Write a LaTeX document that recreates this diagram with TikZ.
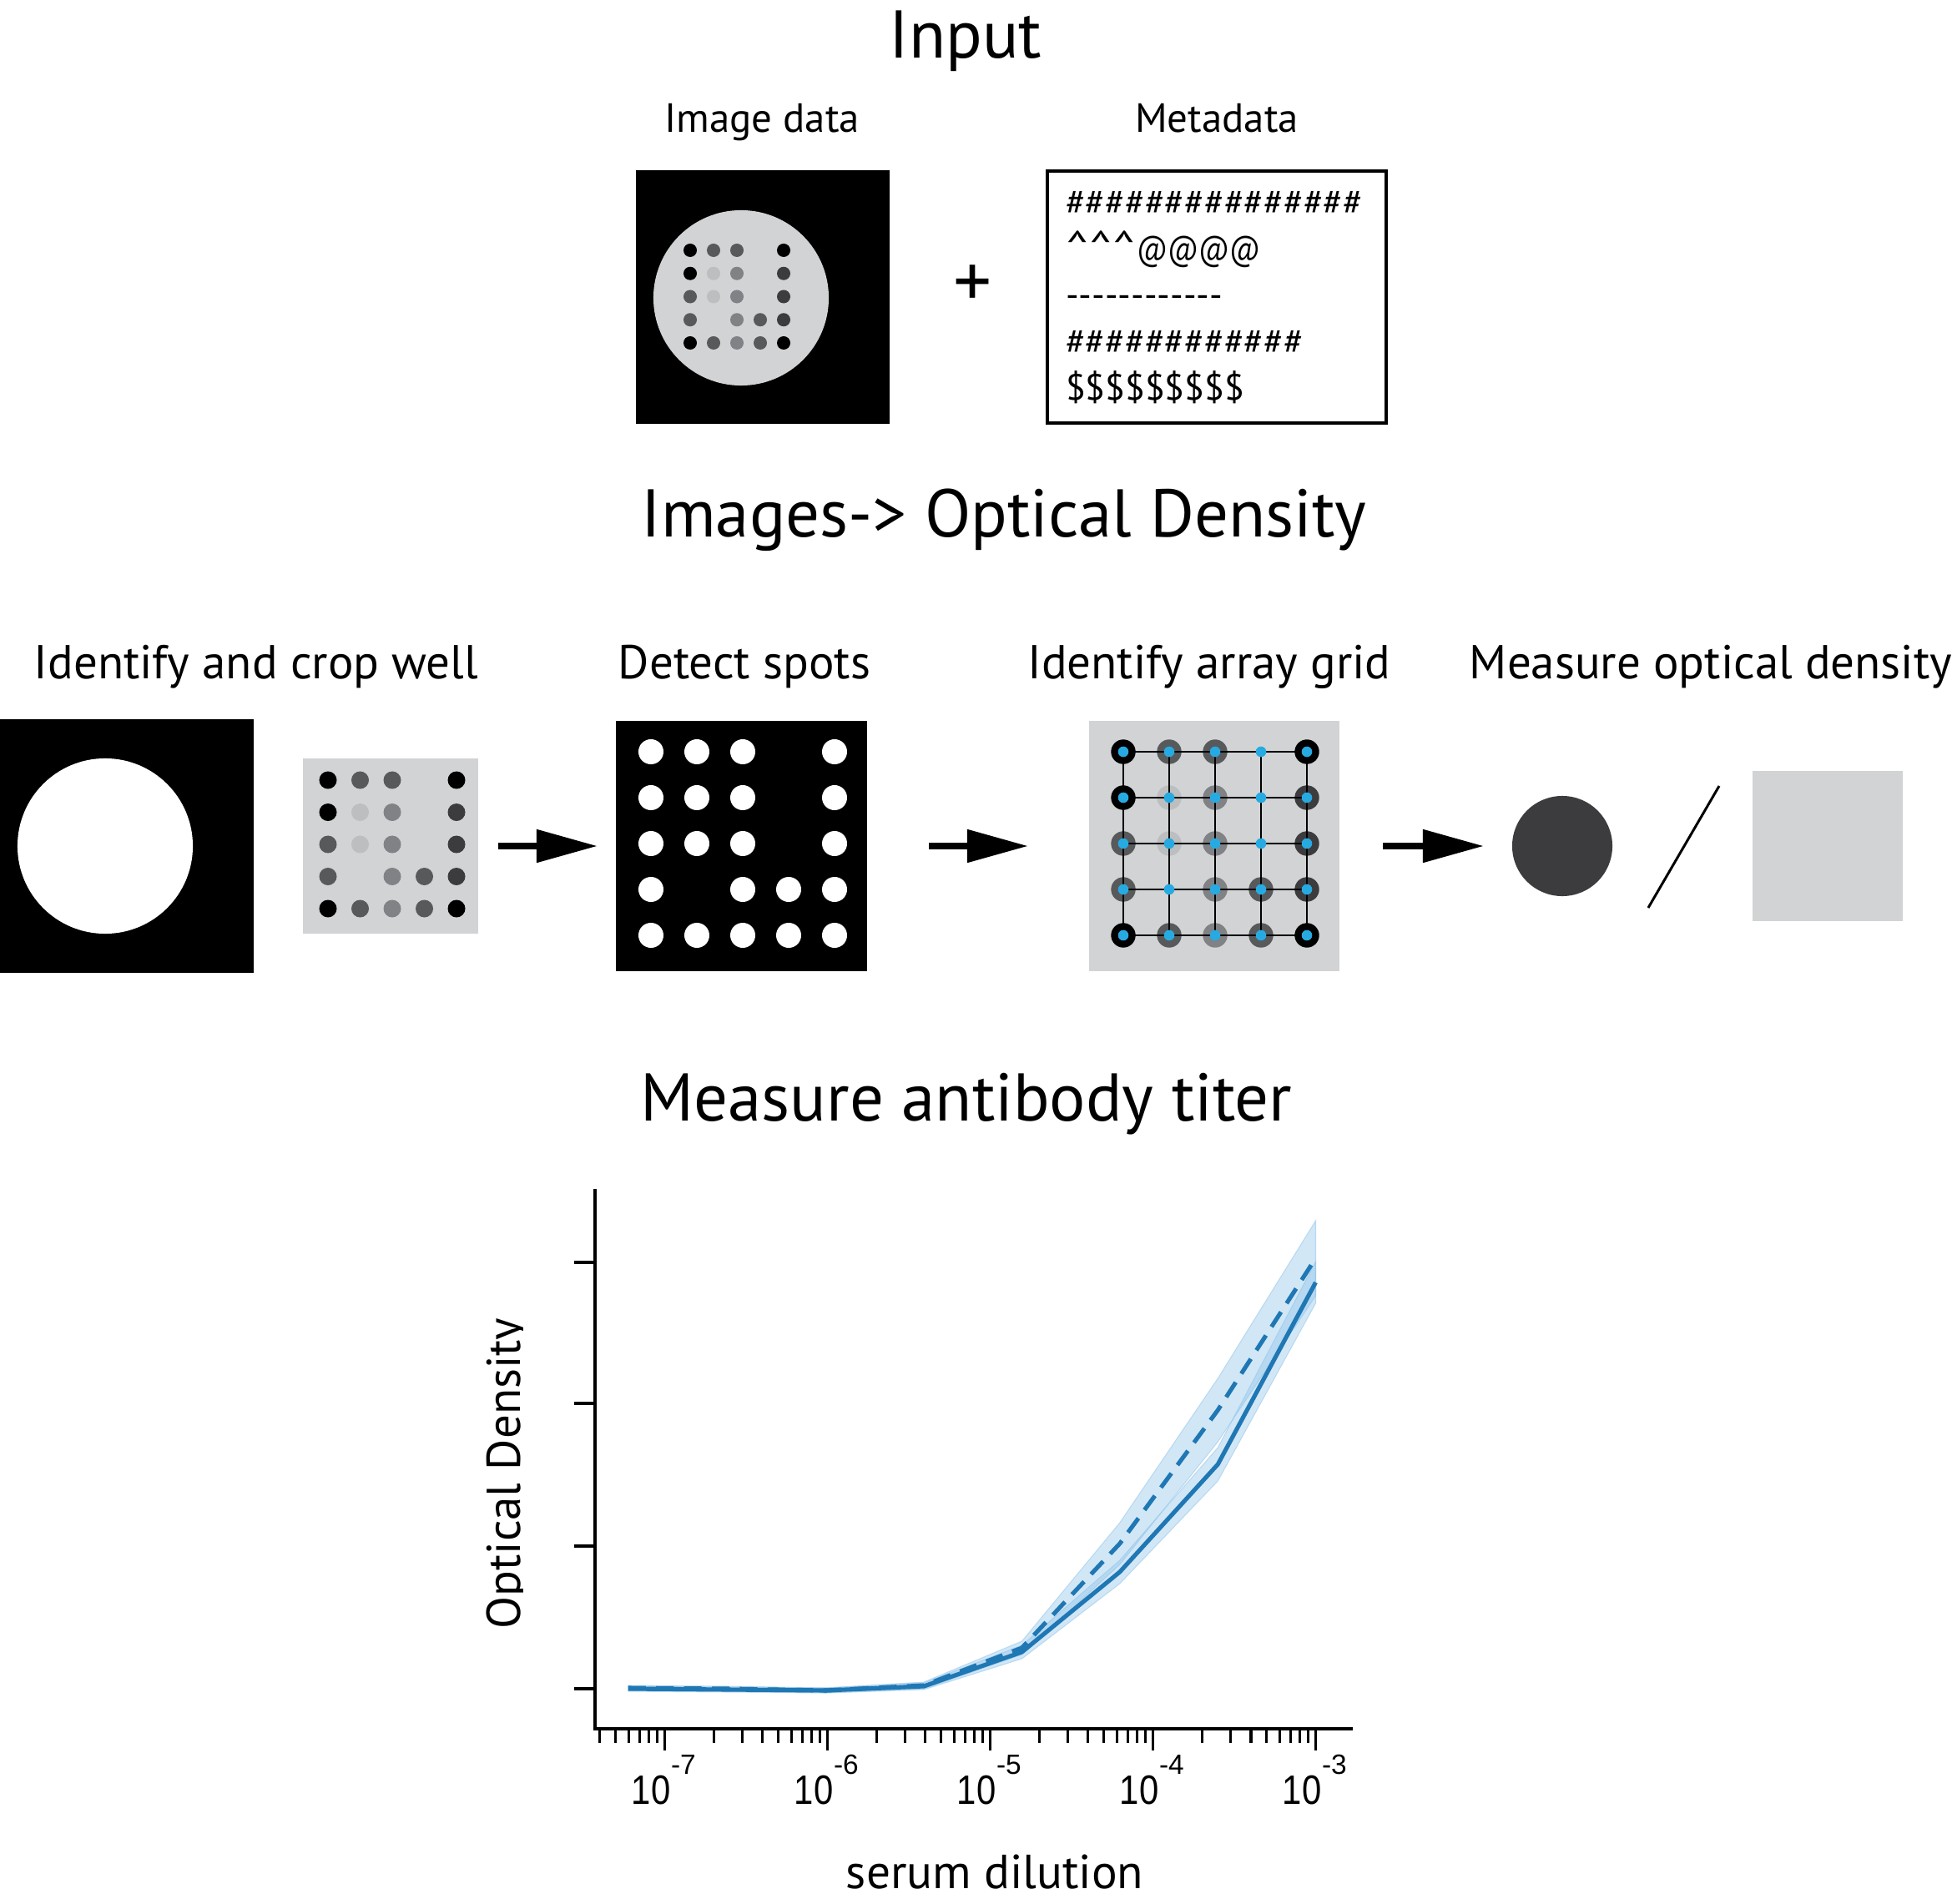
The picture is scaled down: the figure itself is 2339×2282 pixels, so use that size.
\documentclass[tikz,border=0pt]{standalone}
\usepackage{fontspec}
\setmainfont{PT Sans}
\newfontfamily\plotfont{Liberation Sans}
\usetikzlibrary{arrows.meta}
\definecolor{wellgray}{HTML}{D1D3D4}
\definecolor{sblack}{HTML}{000000}
\definecolor{sdark}{HTML}{58595B}
\definecolor{sdarker}{HTML}{3C3C3E}
\definecolor{smed}{HTML}{808285}
\definecolor{slight}{HTML}{BCBEC0}
\definecolor{gridblue}{HTML}{27AAE1}
\definecolor{plotblue}{HTML}{1F77B4}
\definecolor{bandblue}{HTML}{8EC3EA}
\begin{document}
\begin{tikzpicture}[x=0.01cm,y=-0.01cm,
  txt/.style={inner sep=0pt,outer sep=0pt},
  titletxt/.style={txt,anchor=base,font=\fontsize{23}{27}\selectfont},
  steplabel/.style={txt,anchor=base,font=\fontsize{16.2}{19}\selectfont},
  sublabel/.style={txt,anchor=base,font=\fontsize{13.9}{16}\selectfont},
  metatxt/.style={txt,anchor=base west,font=\fontsize{12.4}{15}\selectfont},
  panel/.style={inner sep=0pt,outer sep=0pt,anchor=north west},
  bigarrow/.style={line width=2.3pt,-{Triangle[length=0.73cm,width=0.38cm]}},
  axisline/.style={line width=1.1pt},
  tickline/.style={line width=0.9pt},
  curve/.style={plotblue,line width=1.45pt,line join=round},
  band/.style={fill=bandblue,fill opacity=0.4,draw=bandblue,draw opacity=0.5,line width=0.3pt},
  ticklab/.style={txt,anchor=base,font=\plotfont\fontsize{14}{17}\selectfont},
  tickexp/.style={txt,anchor=base west,font=\plotfont\fontsize{9.5}{11}\selectfont}
]
\path[use as bounding box,fill=white] (0,0) rectangle (2339,2282);

% ---------------- Input ----------------
\node[titletxt] (tInput) at (1157,70) {Input};
\node[sublabel] (lImage) at (913,159) {Image data};
\node[sublabel] (lMeta) at (1458,159) {Metadata};

\node[panel,fill=black,minimum width=3.04cm,minimum height=3.04cm] (imgdata) at (762,204) {};
\fill[wellgray] (888,357) circle[radius=1.05cm];
\foreach \c/\r/\col in {1/1/sblack,2/1/sdark,3/1/sdark,5/1/sblack,
  1/2/sblack,2/2/slight,3/2/smed,5/2/sdarker,
  1/3/sdark,2/3/slight,3/3/smed,5/3/sdarker,
  1/4/sdark,3/4/smed,4/4/sdark,5/4/sdarker,
  1/5/sblack,2/5/sdark,3/5/smed,4/5/sdark,5/5/sblack}
  \fill[\col] ({827+(\c-1)*28},{300+(\r-1)*27.75}) circle[radius=0.08cm];

\node[txt,font=\fontsize{26}{30}\selectfont] (plus) at (1166,343) {+};

\node[panel,draw=black,line width=1.14pt,minimum width=4.06cm,minimum height=3.02cm] (metabox) at (1255,205) {};
\node[metatxt] (m1) at (1277,258) {\#\#\#\#\#\#\#\#\#\#\#\#\#\#\#};
\node[metatxt] (m2) at (1277,313) {\scalebox{1.3}[1.15]{\textasciicircum\textasciicircum\textasciicircum}\scalebox{0.8}[0.95]{@@@@}};
\node[metatxt] (m3) at (1277,369) {-{}-{}-{}-{}-{}-{}-{}-{}-{}-{}-{}-};
\node[metatxt] (m4) at (1277,425) {\#\#\#\#\#\#\#\#\#\#\#\#};
\node[metatxt] (m5) at (1277,480) {\$\$\$\$\$\$\$\$\$};

% ---------------- Images -> OD ----------------
\node[titletxt] (tImages) at (1203,643) {Images-> Optical Density};

\node[steplabel] (s1) at (307,813) {Identify and crop well};
\node[steplabel] (s2) at (892,813) {Detect spots};
\node[steplabel] (s3) at (1449,813) {Identify array grid};
\node[steplabel] (s4) at (2050,813) {Measure optical density};

% well
\node[panel,fill=black,minimum width=3.04cm,minimum height=3.04cm] (well) at (0,862) {};
\fill[white] (126,1014) circle[radius=1.05cm];

% cropped
\node[panel,fill=wellgray,minimum width=2.1cm,minimum height=2.1cm] (crop) at (363,909) {};
\foreach \c/\r/\col in {1/1/sblack,2/1/sdark,3/1/sdark,5/1/sblack,
  1/2/sblack,2/2/slight,3/2/smed,5/2/sdarker,
  1/3/sdark,2/3/slight,3/3/smed,5/3/sdarker,
  1/4/sdark,3/4/smed,4/4/sdark,5/4/sdarker,
  1/5/sblack,2/5/sdark,3/5/smed,4/5/sdark,5/5/sblack}
  \fill[\col] ({393+(\c-1)*38.5},{935+(\r-1)*38.5}) circle[radius=0.105cm];

% detect spots
\node[panel,fill=black,minimum width=3.01cm,minimum height=3.0cm] (detect) at (738,864) {};
\foreach \c/\r in {1/1,2/1,3/1,5/1,1/2,2/2,3/2,5/2,1/3,2/3,3/3,5/3,
  1/4,3/4,4/4,5/4,1/5,2/5,3/5,4/5,5/5}
  \fill[white] ({780+(\c-1)*55},{901+(\r-1)*55}) circle[radius=0.15cm];

% array grid
\node[panel,fill=wellgray,minimum width=3.0cm,minimum height=3.0cm] (grid) at (1305,864) {};
\foreach \c/\r/\col in {1/1/sblack,2/1/sdark,3/1/sdark,5/1/sblack,
  1/2/sblack,2/2/slight,3/2/smed,5/2/sdarker,
  1/3/sdark,2/3/slight,3/3/smed,5/3/sdarker,
  1/4/sdark,3/4/smed,4/4/sdark,5/4/sdarker,
  1/5/sblack,2/5/sdark,3/5/smed,4/5/sdark,5/5/sblack}
  \fill[\col] ({1346+(\c-1)*55},{901+(\r-1)*55}) circle[radius=0.147cm];
\foreach \i in {0,...,4} {
  \draw[line width=0.6pt] (1346,{901+\i*55}) -- (1566,{901+\i*55});
  \draw[line width=0.6pt] ({1346+\i*55},901) -- ({1346+\i*55},1121);
}
\foreach \c in {0,...,4}
  \foreach \r in {0,...,4}
    \fill[gridblue] ({1346+\c*55},{901+\r*55}) circle[radius=0.063cm];

% measure OD
\node[circle,fill=sdarker,minimum size=1.2cm,inner sep=0pt] (spotod) at (1872,1014) {};
\coordinate (slA) at (1975,1088);
\coordinate (slB) at (2060,942);
\draw[line width=0.85pt] (slA) -- (slB);
\node[panel,fill=wellgray,minimum width=1.8cm,minimum height=1.8cm] (bgsq) at (2100,924) {};

% arrows
\coordinate (a1s) at (597,1014); \coordinate (a1e) at (716,1014);
\coordinate (a2s) at (1113,1014); \coordinate (a2e) at (1232,1014);
\coordinate (a3s) at (1657,1014); \coordinate (a3e) at (1778,1014);
\draw[bigarrow] (a1s) -- (a1e);
\draw[bigarrow] (a2s) -- (a2e);
\draw[bigarrow] (a3s) -- (a3e);

% ---------------- Titer ----------------
\node[titletxt] (tTiter) at (1158,1343) {Measure antibody titer};

% bands
\filldraw[band] (752.8,2021) -- (872.2,2022) -- (989.6,2023) -- (1107,2017) -- (1224.5,1972) -- (1341.8,1870) -- (1459.3,1735) -- (1576.5,1512)
  -- (1576.5,1562) -- (1459.3,1775) -- (1341.8,1898) -- (1224.5,1988) -- (1107,2025) -- (989.6,2029) -- (872.2,2028) -- (752.8,2027) -- cycle;
\filldraw[band] (752.8,2020) -- (872.2,2021) -- (989.6,2023) -- (1107,2016) -- (1224.5,1967) -- (1341.8,1825) -- (1459.3,1652) -- (1576.5,1463)
  -- (1576.5,1553) -- (1459.3,1728) -- (1341.8,1875) -- (1224.5,1983) -- (1107,2024) -- (989.6,2029) -- (872.2,2027) -- (752.8,2026) -- cycle;
% curves
\draw[curve] (752.8,2024) -- (872.2,2025) -- (989.6,2026) -- (1107,2021) -- (1224.5,1980) -- (1341.8,1884) -- (1459.3,1755) -- (1576.5,1537);
\draw[curve,dash pattern=on 6pt off 3.5pt] (752.8,2023) -- (872.2,2024) -- (989.6,2026) -- (1107,2020) -- (1224.5,1975) -- (1341.8,1850) -- (1459.3,1690) -- (1576.5,1508);

% axes
\coordinate (ytop) at (713,1425);
\coordinate (orig) at (713,2072);
\coordinate (xend) at (1621,2072);
\draw[axisline] (ytop) -- (orig) -- (xend);
\foreach \y in {1513,1682,1853,2024} \draw[tickline] (688,\y) -- (713,\y);
\foreach \L in {0,...,4} \draw[tickline] ({796.5+195*\L},2072) -- ++(0,26);
\foreach \k in {4,...,9} \draw[tickline] ({796.5+195*(log10(\k)-1)},2072) -- ++(0,17);
\foreach \d in {0,...,3}
  \foreach \k in {2,...,9}
    \draw[tickline] ({796.5+195*(\d+log10(\k))},2072) -- ++(0,17);
\foreach \L/\e in {0/7,1/6,2/5,3/4,4/3} {
  \node[ticklab] (tl\e) at ({780+195*\L},2162) {\scalebox{0.85}[1]{10}};
  \node[tickexp] (te\e) at ({804+195*\L},2126) {-\e};
}
\node[txt,anchor=base,font=\fontsize{16.3}{19}\selectfont] (xlab) at (1192,2263) {serum dilution};
\begin{scope}
\clip (540,1500) rectangle (626,2000);
\node[txt,anchor=base,rotate=90,font=\fontsize{16.2}{19}\selectfont] (ylab) at (623,1766) {Optical Density};
\end{scope}
\end{tikzpicture}
\end{document}
